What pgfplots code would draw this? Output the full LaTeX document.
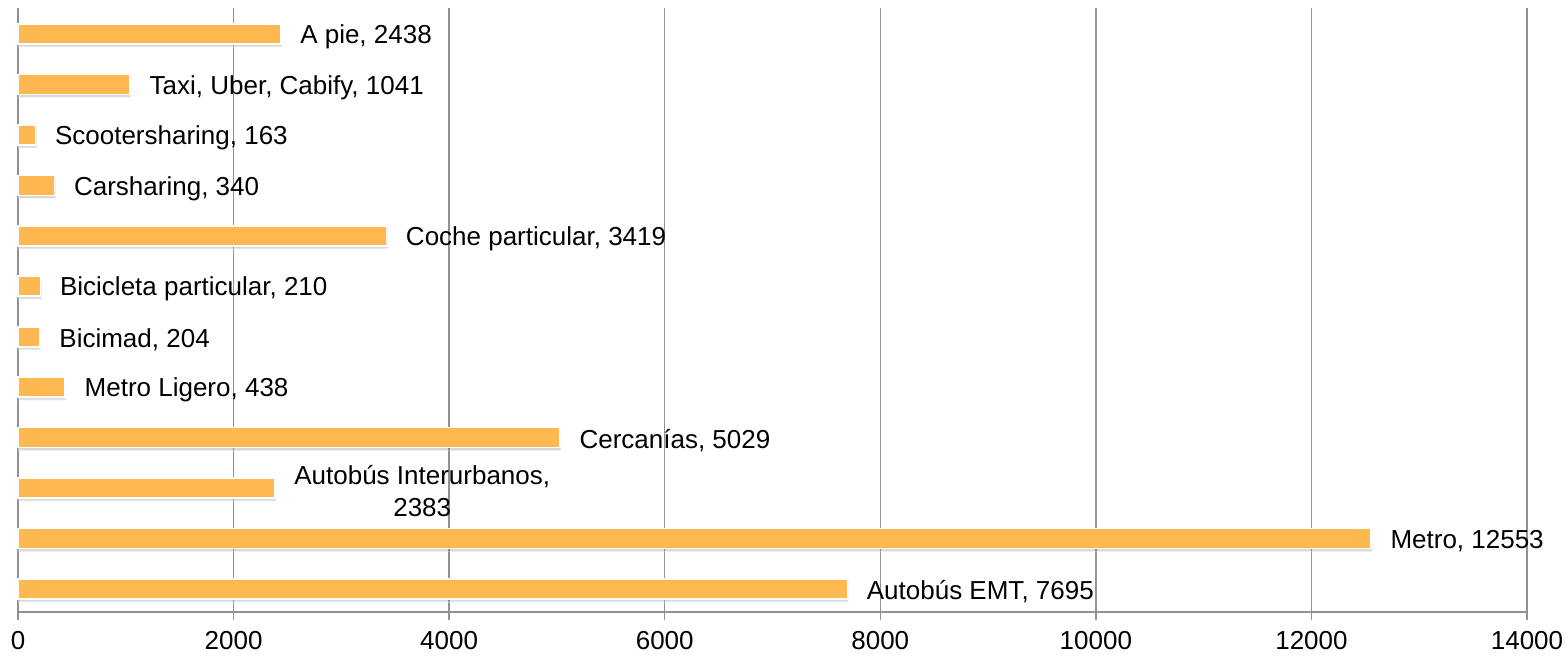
\documentclass[border=0pt]{standalone}
\usepackage{pgfplots}
\pgfplotsset{compat=1.18}
\usepackage{pgfplotstable}
\usepackage{fontspec}
\setmainfont{Liberation Sans}
\usetikzlibrary{shadows}
\definecolor{barfill}{RGB}{255,183,80}
\definecolor{gridgray}{RGB}{145,145,145}
\pgfplotstableread[col sep=semicolon]{
y;val;label
0;7695;{Autobús EMT, 7695}
1;12553;{Metro, 12553}
2;2383;{Autobús Interurbanos,\\2383}
3;5029;{Cercanías, 5029}
4;438;{Metro Ligero, 438}
5;204;{Bicimad, 204}
6;210;{Bicicleta particular, 210}
7;3419;{Coche particular, 3419}
8;340;{Carsharing, 340}
9;163;{Scootersharing, 163}
10;1041;{Taxi, Uber, Cabify, 1041}
11;2438;{A pie, 2438}
}\datatable
\begin{document}
\begin{tikzpicture}[font=\fontsize{13}{16}\selectfont]
\begin{axis}[
  scale only axis,
  width=754.5pt, height=302pt,
  xmin=0, xmax=14000,
  ymin=-0.456, ymax=11.515,
  xtick={0,2000,...,14000},
  ytick=\empty,
  axis x line*=bottom,
  axis y line*=left,
  axis line style={gridgray, line width=0.75pt, -},
  xmajorgrids,
  grid style={gridgray, line width=0.75pt},
  major tick length=4pt,
  tick align=outside,
  tick style={gridgray, line width=0.75pt},
  scaled x ticks=false,
  xticklabel style={/pgf/number format/1000 sep={}, yshift=-2pt},
  /pgf/number format/assume math mode=true,
  clip=false,
]
\addplot[xbar, bar width=10pt, bar shift=0pt,
  fill=barfill, draw=white, line width=0.8pt,
  drop shadow={shadow xshift=0.5pt, shadow yshift=-1.5pt, opacity=0.3},
  point meta=explicit symbolic,
  nodes near coords,
  every node near coord/.append style={anchor=west, xshift=6pt, yshift=-1.5pt, align=center, text=black, font=\fontsize{13}{16}\selectfont},
] table[x=val, y=y, meta=label] {\datatable};
\end{axis}
\pgfresetboundingbox
\path[use as bounding box] ([xshift=-9pt,yshift=4pt]current axis.north west) rectangle ([xshift=19.5pt,yshift=-23.5pt]current axis.south east);
\end{tikzpicture}
\end{document}
